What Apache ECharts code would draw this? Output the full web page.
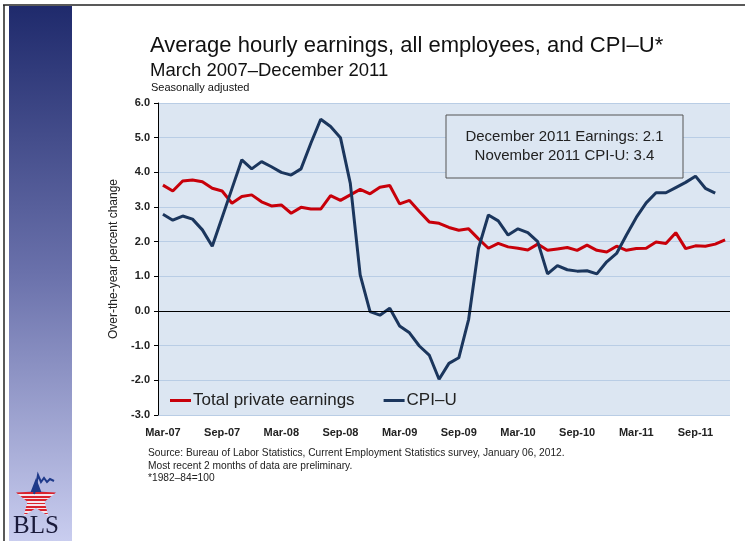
<!DOCTYPE html>
<html>
<head>
<meta charset="utf-8">
<script src="https://cdn.jsdelivr.net/npm/echarts@6/dist/echarts.min.js"></script>
<style>
  html, body { margin: 0; padding: 0; background: #fff; }
  #chart { width: 745px; height: 541px; }
</style>
</head>
<body>
<div id="chart"></div>
<script>
var months = [
  'Mar-07', 'Apr-07', 'May-07', 'Jun-07', 'Jul-07', 'Aug-07', 'Sep-07', 'Oct-07', 'Nov-07', 'Dec-07',
  'Jan-08', 'Feb-08', 'Mar-08', 'Apr-08', 'May-08', 'Jun-08', 'Jul-08', 'Aug-08', 'Sep-08', 'Oct-08', 'Nov-08', 'Dec-08',
  'Jan-09', 'Feb-09', 'Mar-09', 'Apr-09', 'May-09', 'Jun-09', 'Jul-09', 'Aug-09', 'Sep-09', 'Oct-09', 'Nov-09', 'Dec-09',
  'Jan-10', 'Feb-10', 'Mar-10', 'Apr-10', 'May-10', 'Jun-10', 'Jul-10', 'Aug-10', 'Sep-10', 'Oct-10', 'Nov-10', 'Dec-10',
  'Jan-11', 'Feb-11', 'Mar-11', 'Apr-11', 'May-11', 'Jun-11', 'Jul-11', 'Aug-11', 'Sep-11', 'Oct-11', 'Nov-11', 'Dec-11'
];

// total private average hourly earnings, over-the-year % change
var earnings = [
  3.63, 3.46, 3.75, 3.78, 3.73, 3.54, 3.46, 3.11, 3.30, 3.35,
  3.15, 3.03, 3.06, 2.82, 2.99, 2.94, 2.94, 3.33, 3.19, 3.35, 3.51, 3.38,
  3.57, 3.62, 3.09, 3.19, 2.87, 2.57, 2.53, 2.41, 2.33, 2.37, 2.08, 1.81,
  1.95, 1.85, 1.81, 1.76, 1.93, 1.75, 1.79, 1.83, 1.75, 1.90, 1.75, 1.70,
  1.87, 1.75, 1.80, 1.81, 1.99, 1.95, 2.26, 1.80, 1.88, 1.87, 1.93, 2.05
];

// CPI-U, over-the-year % change (no Dec-11 value yet)
var cpiu = [
  2.79, 2.62, 2.74, 2.65, 2.34, 1.87, 2.70, 3.53, 4.36, 4.10,
  4.31, 4.16, 4.00, 3.92, 4.10, 4.84, 5.53, 5.32, 5.00, 3.68, 1.04, -0.02,
  -0.12, 0.08, -0.43, -0.63, -1.01, -1.27, -1.97, -1.51, -1.35, -0.24, 1.81, 2.77,
  2.60, 2.19, 2.37, 2.26, 2.00, 1.07, 1.31, 1.19, 1.15, 1.16, 1.07, 1.42,
  1.66, 2.19, 2.70, 3.12, 3.41, 3.41, 3.56, 3.71, 3.89, 3.54, 3.40, null
];

var noteLines = [
  'December 2011 Earnings: 2.1',
  'November 2011 CPI-U: 3.4'
];

var sourceLines = [
  'Source: Bureau of Labor Statistics, Current Employment Statistics survey, January 06, 2012.',
  'Most recent 2 months of data are preliminary.',
  '*1982\u201384=100'
];

var font = 'Arial, "Liberation Sans", sans-serif';

// star for the BLS logo
function starPoints(cx, cy, R, r) {
  var pts = [];
  for (var k = 0; k < 10; k++) {
    var a = -Math.PI / 2 + k * Math.PI / 5;
    var rad = k % 2 === 0 ? R : r;
    pts.push([cx + rad * Math.cos(a), cy + rad * Math.sin(a)]);
  }
  return pts;
}

function stripes() {
  var stops = [{ offset: 0, color: '#1f3a8a' }, { offset: 0.38, color: '#1f3a8a' }];
  var n = 7;
  for (var k = 0; k < n; k++) {
    var a = 0.38 + (0.62 / n) * k;
    var b = 0.38 + (0.62 / n) * (k + 0.55);
    var c = 0.38 + (0.62 / n) * (k + 1);
    stops.push({ offset: a, color: '#d9232e' }, { offset: b, color: '#d9232e' });
    stops.push({ offset: b, color: '#f4e6ee' }, { offset: c, color: '#f4e6ee' });
  }
  return new echarts.graphic.LinearGradient(0, 0, 0, 1, stops);
}

var chart = echarts.init(document.getElementById('chart'), null, { renderer: 'canvas' });

var option = {
  backgroundColor: '#ffffff',
  animation: false,
  color: ['#c8000a', '#1b365d'],
  grid: {
    left: 158,
    right: 15,
    top: 103,
    bottom: 126,
    show: true,
    backgroundColor: '#dce6f2',
    borderWidth: 0,
    containLabel: false
  },
  legend: {
    left: 165,
    top: 387,
    icon: 'rect',
    itemWidth: 21,
    itemHeight: 3,
    itemGap: 29,
    textStyle: { fontFamily: font, fontSize: 17, color: '#222', padding: [0, 0, 0, -3] },
    data: ['Total private earnings', 'CPI\u2013U']
  },
  xAxis: {
    type: 'category',
    data: months,
    boundaryGap: true,
    axisLine: { show: false },
    axisTick: { show: false },
    axisLabel: {
      interval: 5,
      margin: 12,
      fontFamily: font,
      fontSize: 11,
      fontWeight: 'bold',
      color: '#222'
    },
    splitLine: { show: false }
  },
  yAxis: {
    type: 'value',
    min: -3,
    max: 6,
    interval: 1,
    name: 'Over-the-year percent change',
    nameLocation: 'middle',
    nameGap: 37,
    nameTextStyle: { fontFamily: font, fontSize: 12, color: '#222' },
    axisLine: { show: true, lineStyle: { color: '#000', width: 1 } },
    axisTick: { show: true, inside: false, length: 4, lineStyle: { color: '#000' } },
    axisLabel: {
      margin: 8,
      fontFamily: font,
      fontSize: 11,
      fontWeight: 'bold',
      color: '#222',
      formatter: function (v) { return v.toFixed(1); }
    },
    splitLine: { show: true, lineStyle: { color: '#b9cde5', width: 1 } }
  },
  series: [
    {
      name: 'Total private earnings',
      type: 'line',
      data: earnings,
      showSymbol: false,
      symbol: 'none',
      lineStyle: { width: 3, color: '#c8000a' },
      itemStyle: { color: '#c8000a' },
      z: 3,
      markLine: {
        silent: true,
        symbol: 'none',
        label: { show: false },
        lineStyle: { color: '#000', width: 1, type: 'solid' },
        data: [{ yAxis: 0 }]
      }
    },
    {
      name: 'CPI\u2013U',
      type: 'line',
      data: cpiu,
      showSymbol: false,
      symbol: 'none',
      lineStyle: { width: 3, color: '#1b365d' },
      itemStyle: { color: '#1b365d' },
      z: 4
    }
  ],
  graphic: [
    // slide frame and side bar
    { type: 'line', shape: { x1: 3, y1: 5, x2: 745, y2: 5 }, style: { stroke: '#222', lineWidth: 1.5 } },
    { type: 'line', shape: { x1: 4, y1: 5, x2: 4, y2: 541 }, style: { stroke: '#222', lineWidth: 1.5 } },
    {
      type: 'rect',
      shape: { x: 9, y: 6, width: 63, height: 535 },
      style: {
        fill: new echarts.graphic.LinearGradient(0, 0, 0, 1, [
          { offset: 0, color: '#1f2a6c' },
          { offset: 0.5, color: '#6a71ab' },
          { offset: 1, color: '#c9cdef' }
        ])
      }
    },
    // BLS logo
    {
      type: 'polygon',
      shape: { points: starPoints(36, 499, 21, 9) },
      style: { fill: stripes() }
    },
    {
      type: 'polyline',
      shape: { points: [[34, 494], [36, 486], [38, 475], [41, 482], [44, 478], [47, 482], [50, 479], [54, 481]] },
      style: { stroke: '#1f3a8a', lineWidth: 2, fill: null }
    },
    {
      type: 'text', left: 13, top: 514,
      style: { text: 'BLS', fontFamily: '"Liberation Serif", "DejaVu Serif", serif', fontSize: 25, fill: '#1a1a3a' }
    },
    // titles
    {
      type: 'text', left: 150, top: 35,
      style: { text: 'Average hourly earnings, all employees, and CPI\u2013U*', fontFamily: font, fontSize: 22, fill: '#111' }
    },
    {
      type: 'text', left: 150, top: 61,
      style: { text: 'March 2007\u2013December 2011', fontFamily: font, fontSize: 18.5, fill: '#111' }
    },
    {
      type: 'text', left: 151, top: 82,
      style: { text: 'Seasonally adjusted', fontFamily: font, fontSize: 11, fill: '#111' }
    },
    // annotation box
    {
      type: 'rect',
      shape: { x: 446, y: 115, width: 237, height: 63 },
      style: { fill: '#dce6f2', stroke: '#555', lineWidth: 1 },
      z: 10
    },
    {
      type: 'text', x: 564.5, y: 146,
      style: {
        text: noteLines.join('\n'),
        fontFamily: font, fontSize: 15, lineHeight: 19, fill: '#222',
        align: 'center', verticalAlign: 'middle'
      },
      z: 11
    },
    // source notes
    {
      type: 'text', left: 148, top: 447,
      style: {
        text: sourceLines.join('\n'),
        fontFamily: font,
        fontSize: 10.2, lineHeight: 12.5, fill: '#222'
      }
    }
  ]
};

chart.setOption(option);
</script>
</body>
</html>
